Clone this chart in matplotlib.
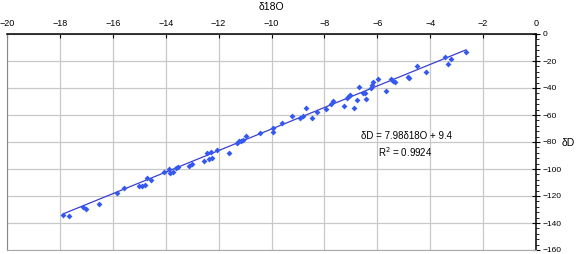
import matplotlib.pyplot as plt
from matplotlib.ticker import MultipleLocator

# delta 18O and delta D values
d18o = [-17.87, -17.66, -17.12, -17.01, -16.51, -15.85, -15.56, -15.00, -14.91, -14.78,
        -14.72, -14.56, -14.05, -13.86, -13.83, -13.71, -13.61, -13.52, -13.11, -13.02,
        -12.54, -12.45, -12.37, -12.29, -12.24, -12.05, -11.61, -11.32, -11.24, -11.16,
        -11.09, -10.96, -10.42, -9.96, -9.93, -9.62, -9.24, -8.92, -8.82, -8.71,
        -8.46, -8.29, -7.94, -7.76, -7.66, -7.25, -7.16, -7.08, -7.03, -6.89,
        -6.78, -6.68, -6.55, -6.47, -6.42, -6.24, -6.19, -6.15, -5.96, -5.67,
        -5.48, -5.39, -5.32, -4.83, -4.79, -4.51, -4.17, -3.44, -3.34, -3.23, -2.65]
dD = [-134.0, -134.6, -128.0, -129.6, -125.7, -118.0, -114.3, -112.3, -112.6, -112.0,
      -106.9, -108.4, -102.2, -100.2, -102.7, -102.0, -99.0, -98.3, -97.5, -96.5,
      -94.0, -87.9, -92.8, -87.6, -91.9, -86.2, -88.4, -80.5, -79.0, -79.0,
      -78.3, -75.6, -73.3, -69.4, -72.4, -65.7, -60.5, -62.5, -60.5, -55.0,
      -62.0, -58.0, -55.6, -52.1, -49.4, -53.6, -47.2, -45.9, -45.2, -55.0,
      -48.9, -39.0, -43.5, -43.5, -47.9, -40.0, -37.8, -35.3, -33.3, -42.2,
      -33.3, -34.8, -35.6, -31.6, -32.3, -23.5, -28.1, -16.8, -22.5, -18.5, -13.6]

slope = 7.98
intercept = 9.4
fit_x = [min(d18o), max(d18o)]
fit_y = [slope * v + intercept for v in fit_x]

plt.rcParams['font.family'] = ['Liberation Sans', 'DejaVu Sans']

fig = plt.figure(figsize=(5.8, 2.54), dpi=100)
ax = fig.add_axes([7 / 580, 1 - 250 / 254, (536 - 7) / 580, (250 - 34) / 254])

ax.plot(fit_x, fit_y, color='#3a3fd0', linewidth=0.9, zorder=2)
ax.scatter(d18o, dD, marker='D', s=9, color='#3559f0', linewidths=0, zorder=3)

ax.set_xlim(-20, 0)
ax.set_ylim(-160, 0)
ax.xaxis.set_major_locator(MultipleLocator(2))
ax.yaxis.set_major_locator(MultipleLocator(20))
ax.yaxis.set_minor_locator(MultipleLocator(4))
ax.grid(True, color='#c8c8c8', linewidth=0.9)
ax.set_axisbelow(True)

ax.xaxis.tick_top()
ax.xaxis.set_label_position('top')
ax.yaxis.tick_right()
ax.tick_params(axis='x', direction='in', length=3, labelsize=6.5, pad=4)
ax.tick_params(axis='y', which='major', direction='inout', length=6, labelsize=6, pad=1.5)
ax.tick_params(axis='y', which='minor', direction='out', length=2.5)

ax.spines['top'].set_linewidth(1.1)
ax.spines['right'].set_linewidth(1.1)
ax.spines['left'].set_color('#888888')
ax.spines['bottom'].set_color('#aaaaaa')

ax.set_xlabel('δ18O', fontsize=7.5, labelpad=7)
fig.text(562 / 580, 1 - 143 / 254, 'δD', fontsize=7.5, ha='left', va='center')

ax.text(-4.9, -75.5, 'δD = 7.98δ18O + 9.4', fontsize=7, ha='center', va='center')
ax.text(-4.95, -87.5, 'R$^2$ = 0.9924', fontsize=7, ha='center', va='center')

plt.savefig('out.png', dpi=100)
